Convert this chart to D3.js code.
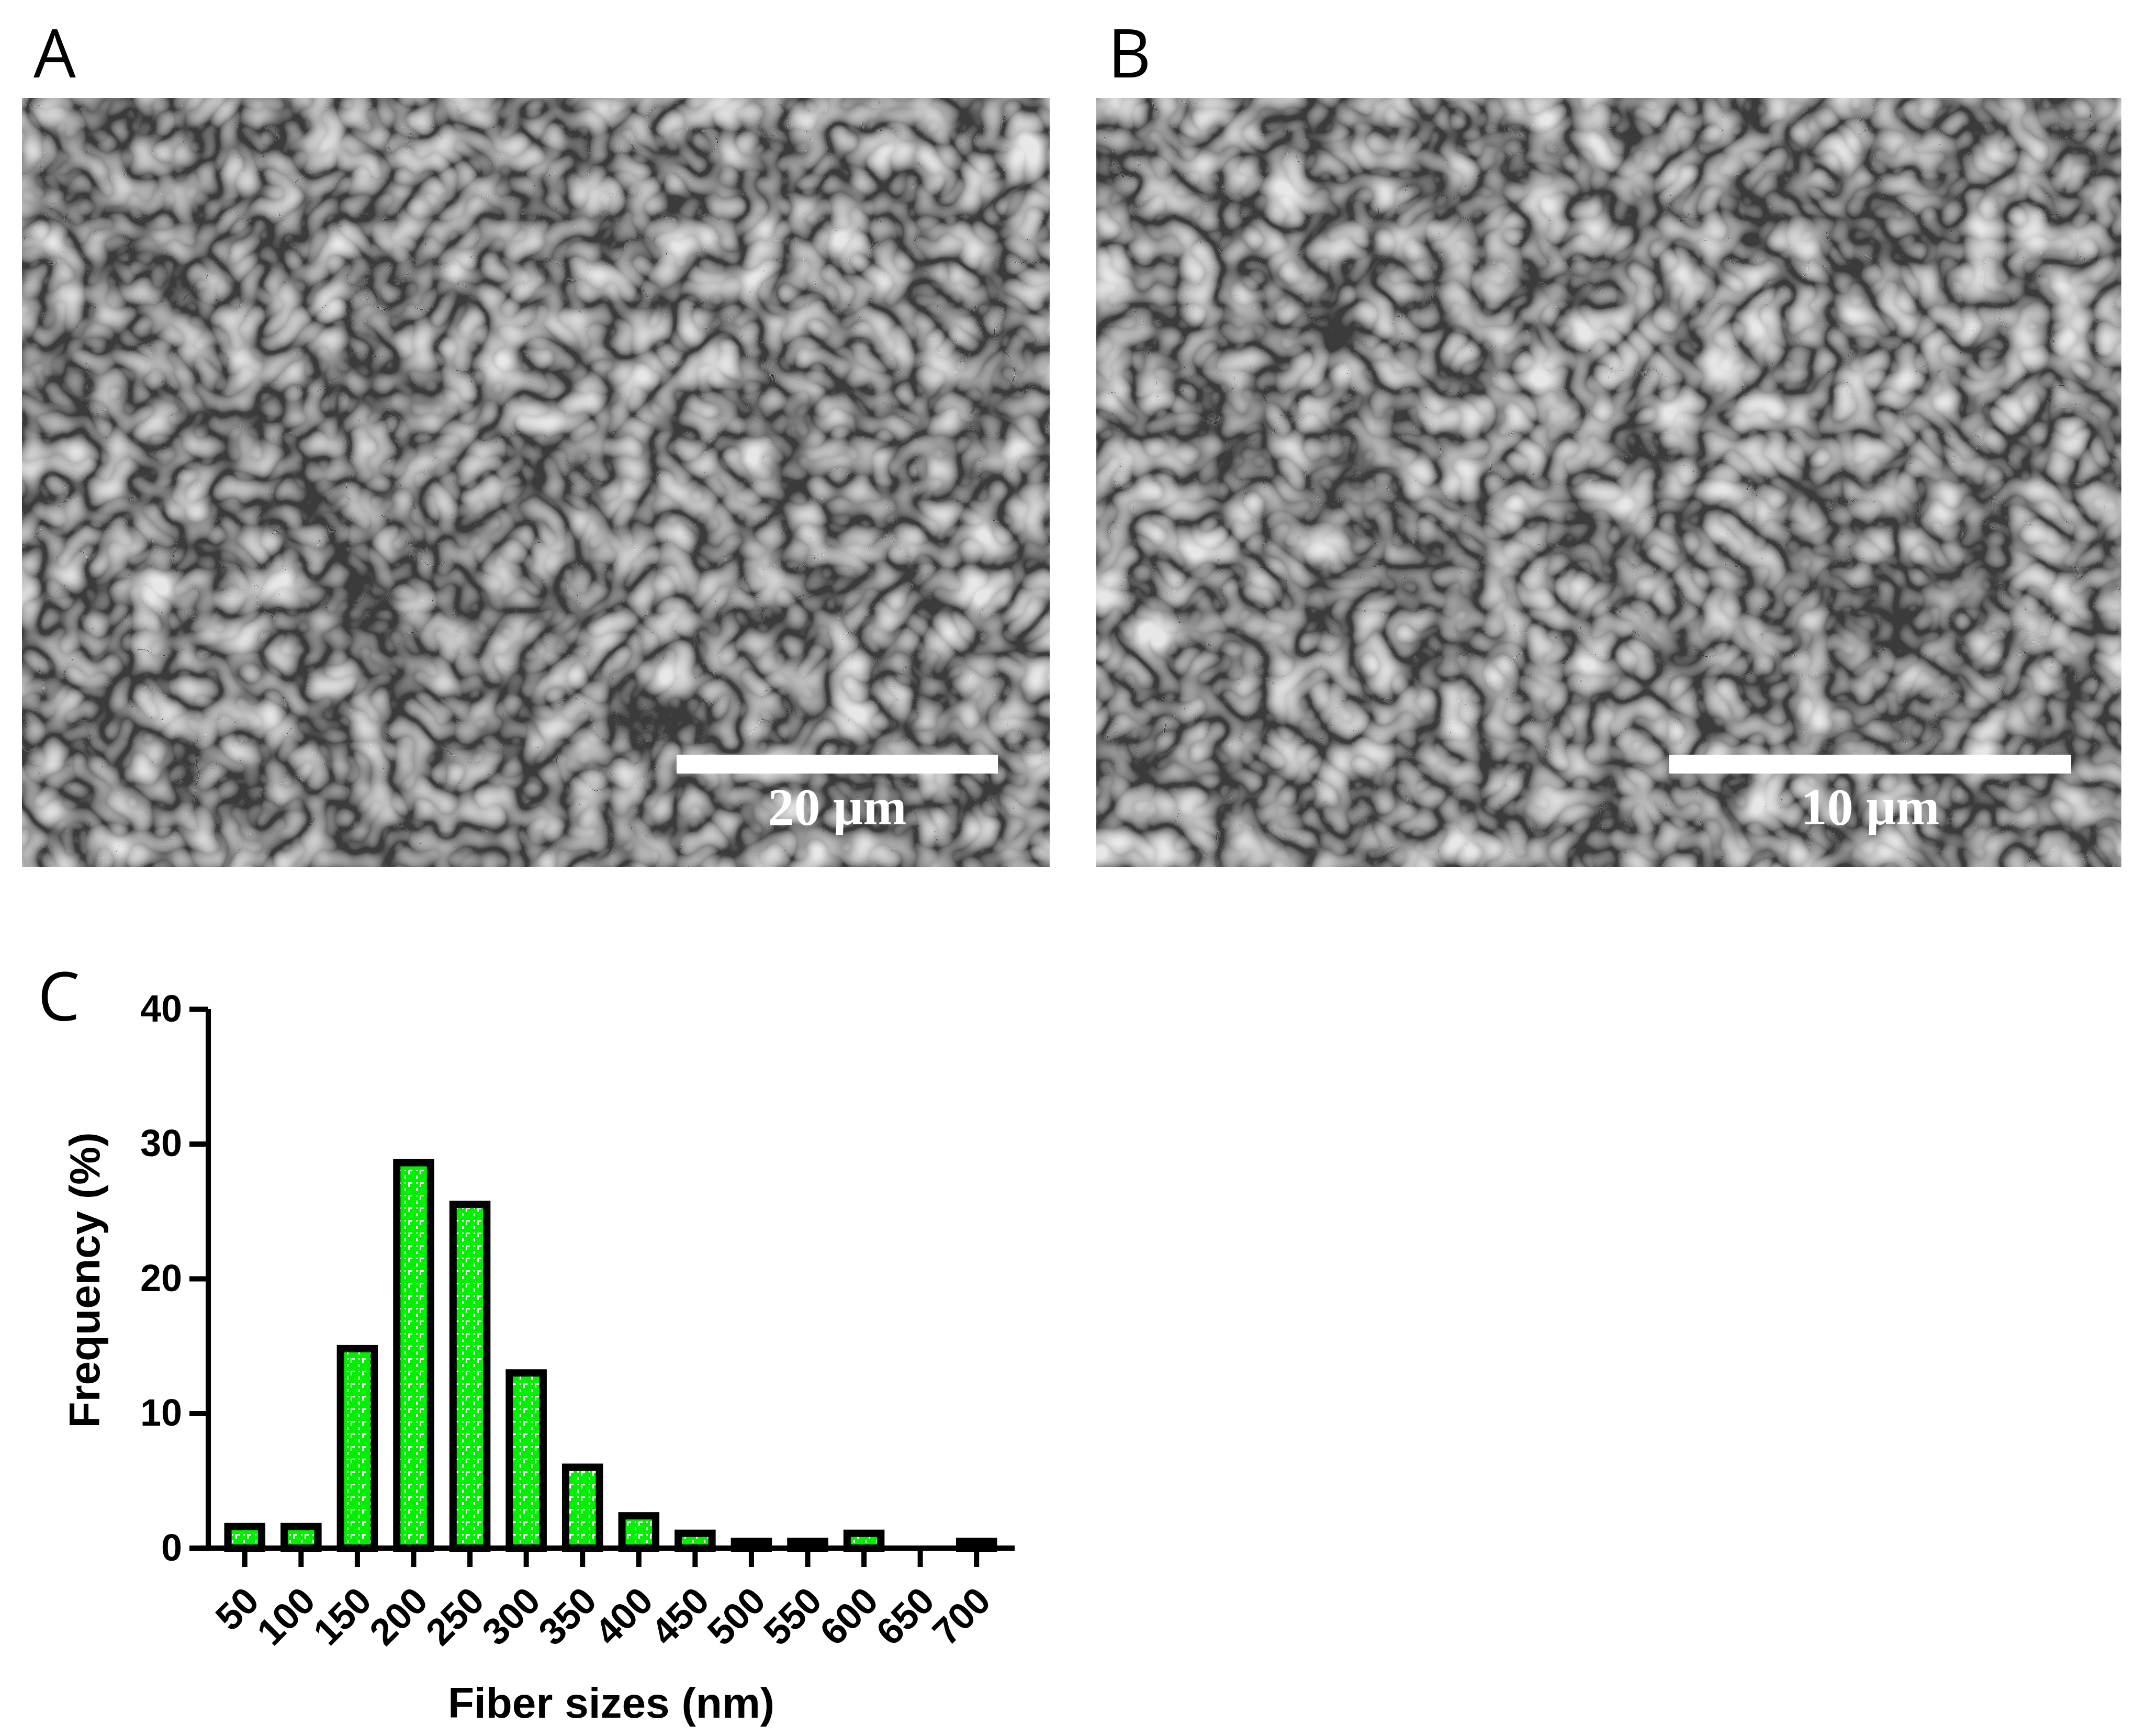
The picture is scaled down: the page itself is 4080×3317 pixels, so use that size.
<!DOCTYPE html>
<html>
<head>
<meta charset="utf-8">
<script src="https://cdn.jsdelivr.net/npm/d3@7"></script>
<style>body{margin:0;background:#fff}</style>
</head>
<body>
<script>
// histogram data
const sizes=["50","100","150","200","250","300","350","400","450","500","550","600","650","700"];
const freq=[1.6,1.6,14.8,28.6,25.5,13.0,6.0,2.4,1.1,0.5,0.5,1.1,0,0.5];
const yTicks=[0,10,20,30,40];

const W=4080,H=3317;
const svg=d3.select("body").append("svg").attr("width",W).attr("height",H);
const defs=svg.append("defs");

// texture for the micrograph stand-ins
const f=defs.append("filter").attr("id","sem").attr("x",0).attr("y",0).attr("width",1).attr("height",1);
f.append("feTurbulence").attr("type","turbulence").attr("baseFrequency","0.012 0.012").attr("numOctaves",2).attr("seed",7);
f.append("feColorMatrix").attr("values","0 0 0 0 0.8  0 0 0 0 0.8  0 0 0 0 0.8  1.6 0 0 0 -0.1");
f.append("feComposite").attr("in2","SourceGraphic").attr("operator","atop");

const pat=defs.append("pattern").attr("id","gp").attr("patternUnits","userSpaceOnUse").attr("width",22).attr("height",24);
pat.append("rect").attr("width",22).attr("height",24).attr("fill","#00f000");
pat.append("path").attr("d","M3 3h3v3h-3z M10 3h8v3h-5v6h-3z M3 14h3v6h-3z").attr("fill","#fff");

const panels=[
  {id:"A",x:42,y:187,w:1964,h:1470,bx:[1293,1907],text:"20 μm"},
  {id:"B",x:2095,y:187,w:1959,h:1470,bx:[3190,3958],text:"10 μm"}
];
panels.forEach(p=>{
  svg.append("rect").attr("x",p.x).attr("y",p.y).attr("width",p.w).attr("height",p.h).attr("fill","#3a3a3a");
  svg.append("rect").attr("x",p.x).attr("y",p.y).attr("width",p.w).attr("height",p.h).attr("fill","#3a3a3a").attr("filter","url(#sem)");
  svg.append("rect").attr("x",p.bx[0]).attr("y",1442).attr("width",p.bx[1]-p.bx[0]).attr("height",36).attr("fill","#fff");
  svg.append("text").attr("x",(p.bx[0]+p.bx[1])/2).attr("y",1575).attr("text-anchor","middle")
    .attr("font-family","Liberation Serif").attr("font-weight","bold").attr("font-size",100).attr("fill","#fff").text(p.text);
  svg.append("text").attr("x",p.x+22).attr("y",148).attr("font-family","Open Sans").attr("font-size",128).text(p.id);
});
svg.append("text").attr("x",72).attr("y",1950).attr("font-family","Open Sans").attr("font-size",128).text("C");

// chart C
const x0=398,x1=1939,y0=2958;
const x=d3.scaleBand().domain(sizes).range([414,1920]).paddingInner(0.4).paddingOuter(0.2);
const y=d3.scaleLinear().domain([0,40]).range([y0,1928]);
const g=svg.append("g");

g.selectAll("rect.bar").data(freq).enter().append("rect").attr("class","bar")
  .attr("x",(d,i)=>x(sizes[i])).attr("y",d=>y(d))
  .attr("width",x.bandwidth()).attr("height",d=>y0-y(d))
  .attr("fill","url(#gp)").attr("stroke","#000").attr("stroke-width",d=>d>0?14:0);

const font="Liberation Sans";
const ya=g.append("g").attr("transform",`translate(${x0},0)`)
  .call(d3.axisLeft(y).tickValues(yTicks).tickSize(36).tickPadding(14));
const xa=g.append("g").attr("transform",`translate(0,${y0})`)
  .call(d3.axisBottom(x).tickSize(36).tickPadding(14));
[ya,xa].forEach(a=>{
  a.select(".domain").attr("stroke-width",10);
  a.selectAll(".tick line").attr("stroke-width",10);
  a.selectAll("text").attr("font-family",font).attr("font-weight","bold").attr("font-size",72).attr("fill","#000");
});
ya.select(".domain").attr("d",`M0,${y(40)}V${y0}`);
xa.select(".domain").attr("d",`M${x0-36},0H${x1}`);
xa.selectAll("text").attr("text-anchor","end").attr("dy","0.35em")
  .attr("transform","translate(-22,52) rotate(-45)");

g.append("text").attr("transform",`translate(190,2446) rotate(-90)`).attr("text-anchor","middle")
  .attr("font-family",font).attr("font-weight","bold").attr("font-size",82).text("Frequency (%)");
g.append("text").attr("x",1168).attr("y",3282).attr("text-anchor","middle")
  .attr("font-family",font).attr("font-weight","bold").attr("font-size",82).text("Fiber sizes (nm)");
</script>
</body>
</html>
